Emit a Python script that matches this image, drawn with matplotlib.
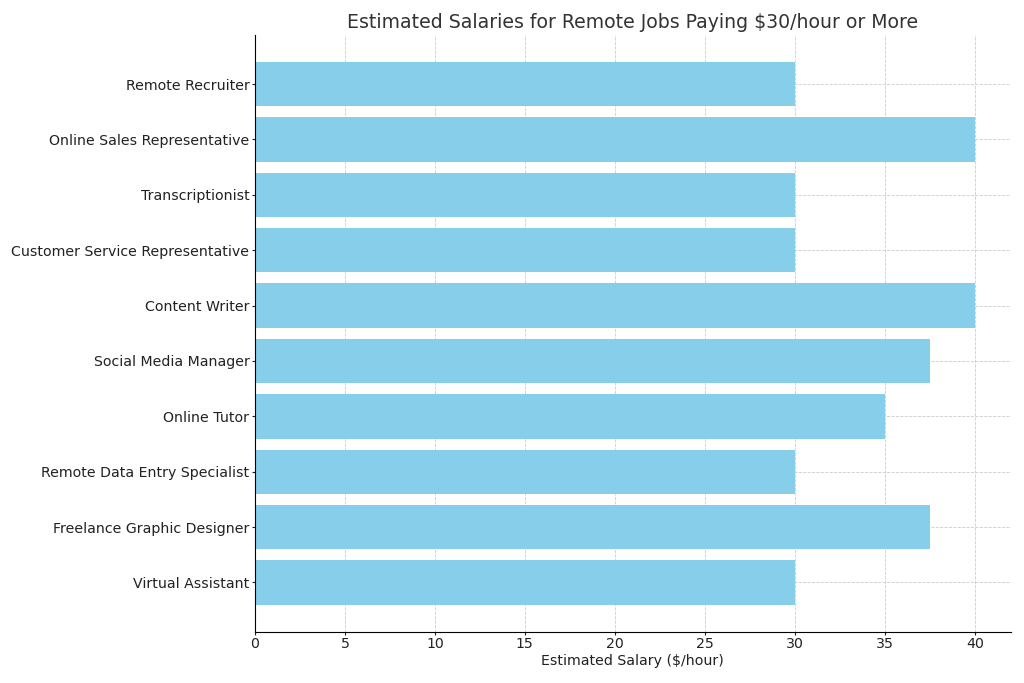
import matplotlib.pyplot as plt

jobs = [
    "Virtual Assistant",
    "Freelance Graphic Designer",
    "Remote Data Entry Specialist",
    "Online Tutor",
    "Social Media Manager",
    "Content Writer",
    "Customer Service Representative",
    "Transcriptionist",
    "Online Sales Representative",
    "Remote Recruiter",
]
salaries = [30, 37.5, 30, 35, 37.5, 40, 30, 30, 40, 30]

plt.rcParams.update({
    "font.family": "DejaVu Sans",
    "text.color": "#333333",
    "axes.labelcolor": "#222222",
    "xtick.color": "#222222",
    "ytick.color": "#222222",
})

fig, ax = plt.subplots(figsize=(10.24, 6.83), dpi=100)
ax.barh(jobs, salaries, color="skyblue", height=0.8, zorder=2)

ax.set_title("Estimated Salaries for Remote Jobs Paying $30/hour or More", fontsize=13.6, pad=5)
ax.set_xlabel("Estimated Salary ($/hour)", fontsize=10.2, labelpad=2)
ax.tick_params(axis="both", labelsize=10.2, length=2, pad=2)
ax.set_xticks(range(0, 45, 5))
ax.set_xlim(0, 42)

ax.grid(True, linestyle="--", linewidth=0.6, color="#cccccc", zorder=0)
ax.spines["top"].set_visible(False)
ax.spines["right"].set_visible(False)

fig.subplots_adjust(left=0.249, right=0.987, top=0.949, bottom=0.075)
fig.savefig("out.png", dpi=100)
